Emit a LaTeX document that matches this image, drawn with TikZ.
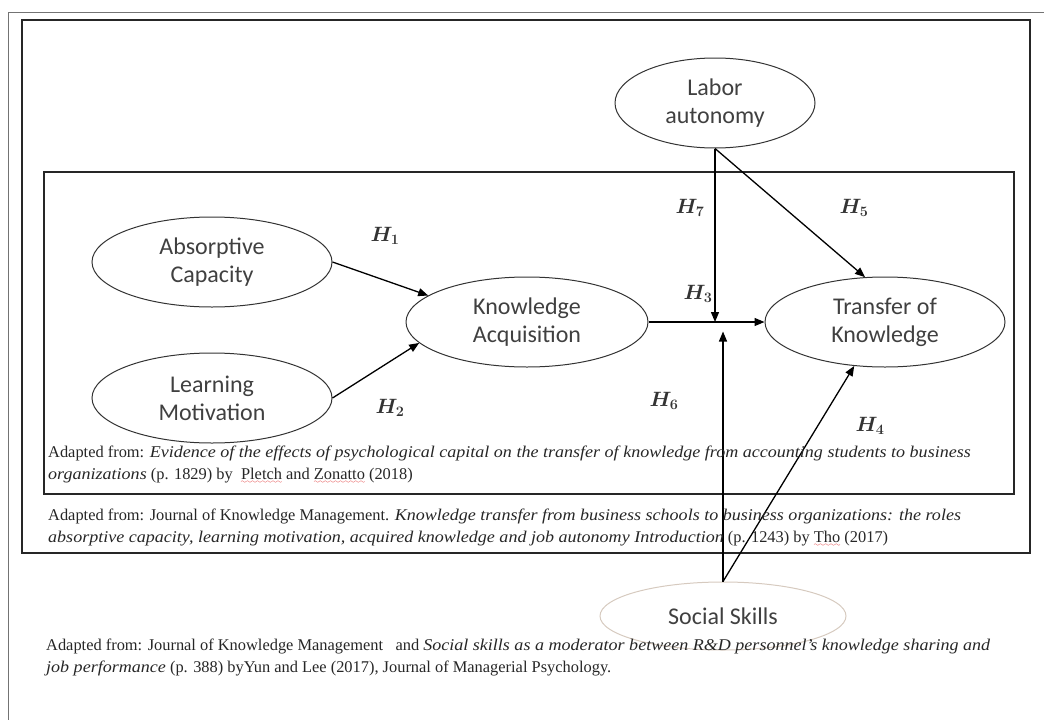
\documentclass[tikz,border=0pt]{standalone}
\usepackage{fontspec}
\setmainfont{Liberation Serif}[ItalicFeatures={FakeStretch=1.1}]
\newfontfamily\calibri{Carlito}
\usetikzlibrary{arrows.meta,positioning,shapes.geometric}

% red wavy underline of the spell checker
\font\wavefont=lasy6
\newsavebox{\spellbox}
\newcommand{\spellmark}[1]{\sbox{\spellbox}{#1}\rlap{\usebox{\spellbox}}%
  \textcolor{red!85!black}{\raisebox{-4pt}{\hbox to \wd\spellbox{\xleaders\hbox{\wavefont\char58}\hfill}}}}

\tikzset{
  factor/.style={ellipse, draw=black!80, line width=1pt, inner sep=2pt, align=center,
    text=black!75, font=\calibri\fontsize{24}{28}\selectfont},
  hyp/.style={inner sep=0pt, text=black!80, font=\fontsize{20}{22}\selectfont\boldmath},
  arr/.style={line width=1.3pt, -{Triangle[length=10pt,width=8pt]}},
  caption/.style={anchor=north west, align=left, inner sep=0pt, text=black!85,
    font=\fontsize{16.4}{22}\selectfont},
  frame/.style={draw=black!85, line width=1.3pt}
}

\begin{document}
\begin{tikzpicture}[x=1pt,y=-1pt]
        \def\fw{240}
        \def\fh{90}
        \useasboundingbox (0,0) rectangle (1044,720);

        % frames
        \draw[black!55, line width=1pt] (1044,12) -- (8,12) -- (8,720);
        \draw[frame] (22,20) rectangle (1030,553);
        \draw[frame] (44,172) rectangle (1014,494);

        % factors
        \node(lab) [factor, minimum width=200pt, minimum height=\fh pt] at (715,103) {Labor\\autonomy};
        \node(abs) [factor, minimum width=\fw pt, minimum height=\fh pt] at (212,262) {Absorptive\\Capacity};
        \node(mot) [factor, minimum width=\fw pt, minimum height=\fh pt] at (212,398) {Learning\\Motivation};
        \node(kac) [factor, minimum width=242pt, minimum height=\fh pt] at (527,322) {Knowledge\\Acquisition};
        \node(tok) [factor, minimum width=\fw pt, minimum height=\fh pt] at (885,322) {Transfer of\\Knowledge};
        \node(soc) [factor, draw=orange!35!black!25, minimum width=246pt, minimum height=68pt] at (723,616) {Social Skills};

        % paths
        \draw[arr] (abs.east) -- (kac.165);
        \draw[arr] (mot.east) -- (kac.191);
        \draw[arr] (kac.east) -- (tok.west);
        \draw[arr] (lab.south) -- (lab.south |- kac.east);
        \draw[arr] (lab.south) -- (tok.114);
        \path (soc.north) ++(0,-250) coordinate (socend);
        \draw[arr] (soc.north) -- (socend);
        \draw[arr] (soc.north) -- (tok.235);

        % hypotheses
        \node(h1) [hyp] at (385,236) {$H_1$};
        \node(h2) [hyp] at (390,408) {$H_2$};
        \node(h3) [hyp] at (698,294) {$H_3$};
        \node(h4) [hyp] at (870,426) {$H_4$};
        \node(h5) [hyp] at (854,208) {$H_5$};
        \node(h6) [hyp] at (664,401) {$H_6$};
        \node(h7) [hyp] at (690,208) {$H_7$};

        % sources
        \node(srcA) [caption] at (48,446) {Adapted from: \textit{Evidence of the effects of psychological capital on the transfer of knowledge from accounting students to business}\\\textit{organizations} (p. 1829) by\ \ \spellmark{Pletch} and \spellmark{Zonatto} (2018)};
        \node(srcB) [caption] at (48,509) {Adapted from: Journal of Knowledge Management. \textit{Knowledge transfer from business schools to business organizations: the roles}\\\textit{absorptive capacity, learning motivation, acquired knowledge and job autonomy Introduction} (p. 1243) by \spellmark{Tho} (2017)};
        \node(srcC) [caption] at (46,639) {Adapted from: Journal of Knowledge Management\ \ \ and \textit{Social skills as a moderator between R\&D personnel's knowledge sharing and}\\\textit{job performance} (p. 388) byYun and Lee (2017), Journal of Managerial Psychology.};
\end{tikzpicture}
\end{document}
